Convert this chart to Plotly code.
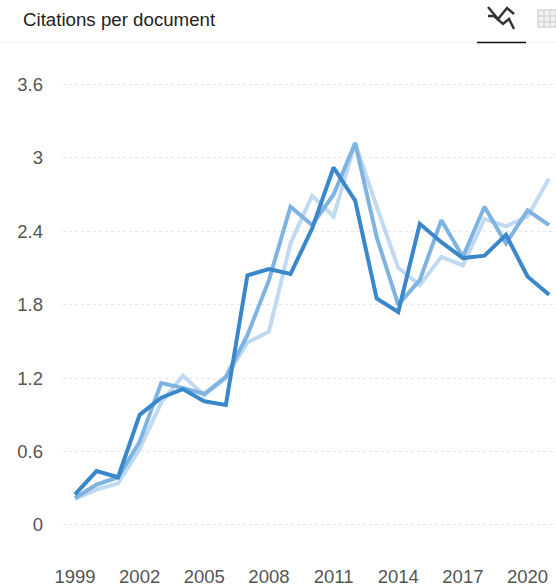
import plotly.graph_objects as go

years = list(range(1999, 2022))
light = [.21, .29, .34, .62, 1.0, 1.22, 1.06, 1.2, 1.49, 1.58, 2.3, 2.69, 2.52, 3.12, 2.6, 2.1, 1.96, 2.19, 2.12, 2.5, 2.44, 2.52, 2.83]
mid = [.22, .33, .39, .68, 1.16, 1.12, 1.07, 1.21, 1.55, 2.0, 2.60, 2.45, 2.70, 3.12, 2.35, 1.80, 2.0, 2.49, 2.19, 2.60, 2.30, 2.57, 2.45]
dark = [.25, .44, .39, .90, 1.04, 1.11, 1.01, .98, 2.04, 2.09, 2.05, 2.42, 2.92, 2.65, 1.85, 1.74, 2.46, 2.31, 2.18, 2.20, 2.37, 2.03, 1.88]
x_ticks = list(range(1999, 2021, 3))
y_ticks = [0, 0.6, 1.2, 1.8, 2.4, 3, 3.6]
y_labels = ["0", "0.6", "1.2", "1.8", "2.4", "3", "3.6"]

W, H = 556, 586
ML, MR, MT, MB = 63, 0, 50, 26
def px(v): return (v - ML) / (W - ML - MR)
def py(v): return 1 - (v - MT) / (H - MT - MB)

fig = go.Figure()
for vals, col in ((light, "#bfdaf2"), (mid, "#7fb3e2"), (dark, "#3a87cb")):
    fig.add_trace(go.Scatter(x=years, y=vals, mode="lines", showlegend=False,
                             line=dict(color=col, width=4), hoverinfo="skip"))

def pline(x0, y0, x1, y1, color, width, dash="solid"):
    return dict(type="line", xref="paper", yref="paper", x0=px(x0), y0=py(y0), x1=px(x1), y1=py(y1),
                line=dict(color=color, width=width, dash=dash))

def ppath(points, color, width):
    d = "M " + " L ".join(f"{px(a):.4f},{py(b):.4f}" for a, b in points)
    return dict(type="path", xref="paper", yref="paper", path=d, line=dict(color=color, width=width))

shapes = [
    pline(0, 42, 556, 42, "#f2f2f2", 1),
    pline(477, 42.5, 526, 42.5, "#111111", 1.5),
    ppath([(488, 7), (498, 19), (507, 8), (514, 14)], "#333333", 2.4),
    ppath([(488, 16), (494, 16), (503, 24), (509, 19), (514, 29)], "#333333", 2.4),
    dict(type="rect", xref="paper", yref="paper", x0=px(538), y0=py(10), x1=px(556), y1=py(27),
         line=dict(color="#d6d6d6", width=1.5), fillcolor="#f2f2f2"),
    pline(538, 16, 556, 16, "#d6d6d6", 1.5),
    pline(538, 22, 556, 22, "#d6d6d6", 1.5),
    pline(544, 10, 544, 27, "#d6d6d6", 1.5),
    pline(550, 10, 550, 27, "#d6d6d6", 1.5),
]

fig.update_layout(
    width=W, height=H, autosize=False,
    paper_bgcolor="white", plot_bgcolor="white",
    margin=dict(l=ML, r=MR, t=MT, b=MB),
    font=dict(family="Liberation Sans, Arial, sans-serif", color="#555555", size=18),
    shapes=shapes,
    annotations=[dict(text="Citations per document", xref="paper", yref="paper",
                      x=px(22), y=py(20), xanchor="left", yanchor="middle", showarrow=False,
                      xshift=-1, font=dict(size=18.7, color="#222222"))],
    xaxis=dict(range=[1998.443, 2021.32], tickvals=x_ticks, ticktext=[str(v) for v in x_ticks],
               showgrid=False, zeroline=False, showline=False, ticks="", ticklabelstandoff=3,
               tickfont=dict(size=18.5, color="#555555")),
    yaxis=dict(range=[-0.286, 3.88], tickvals=y_ticks, ticktext=y_labels, showgrid=True,
               gridcolor="#e6e6e6", griddash="dot", gridwidth=1, zeroline=False, showline=False,
               ticks="", tickfont=dict(size=18.5, color="#555555"), ticklabelstandoff=19),
)
fig.write_html("out.html", config=dict(displayModeBar=False),
               post_script="document.body.style.margin='0';document.documentElement.style.overflow='hidden';")
